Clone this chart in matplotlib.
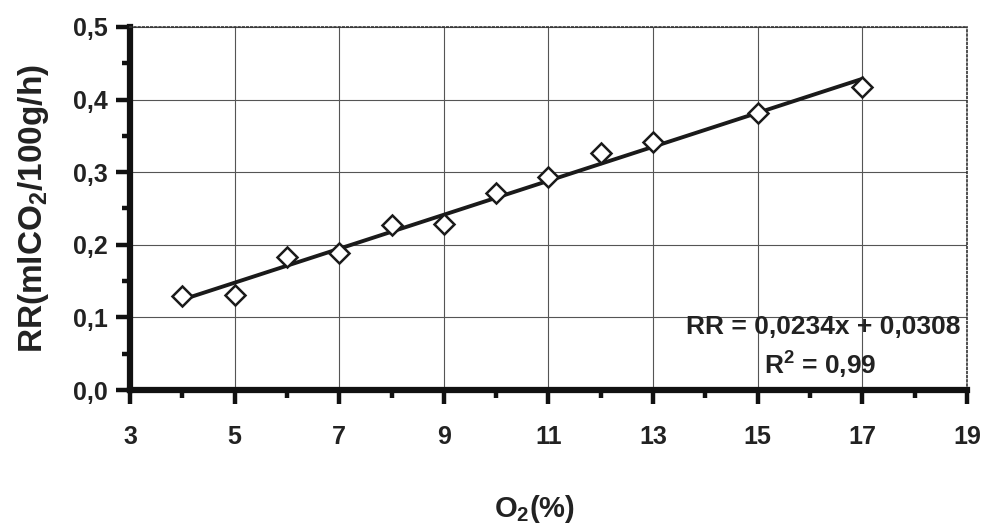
import numpy as np
import matplotlib
matplotlib.use('Agg')
import matplotlib.pyplot as plt
from matplotlib.ticker import FuncFormatter

# data
o2 = [4, 5, 6, 7, 8, 9, 10, 11, 12, 13, 15, 17]
rr = [0.129, 0.131, 0.183, 0.189, 0.227, 0.229, 0.271, 0.293, 0.326, 0.342, 0.382, 0.417]
slope = 0.0234
intercept = 0.0308
r2_text = '0,99'
x_major = [3, 5, 7, 9, 11, 13, 15, 17, 19]
x_minor = [4, 6, 8, 10, 12, 14, 16, 18]
y_major = [0.0, 0.1, 0.2, 0.3, 0.4, 0.5]
y_minor = [0.05, 0.15, 0.25, 0.35, 0.45]

plt.rcParams['font.family'] = ['Liberation Sans', 'DejaVu Sans']
plt.rcParams['font.weight'] = 'bold'
plt.rcParams['mathtext.fontset'] = 'custom'
plt.rcParams['mathtext.rm'] = 'Liberation Sans:bold'
plt.rcParams['mathtext.bf'] = 'Liberation Sans:bold'
plt.rcParams['mathtext.default'] = 'bf'

fig = plt.figure(figsize=(9.87, 5.24), dpi=100, facecolor='white')
ax = fig.add_axes([0.1317, 0.2557, 0.848, 0.6928])

# trend line over the measured range
xf = np.array([min(o2), max(o2)])
ax.plot(xf, slope * xf + intercept, color='#1a1a1a', lw=2.8, zorder=3)
ax.plot(o2, rr, linestyle='none', marker='D', ms=10, mfc='white',
        mec='#1a1a1a', mew=1.8, zorder=4)

ax.set_xlim(3, 19)
ax.set_ylim(0, 0.5)
ax.set_xticks(x_major)
ax.set_xticks(x_minor, minor=True)
ax.set_yticks(y_major)
ax.set_yticks(y_minor, minor=True)
ax.yaxis.set_major_formatter(FuncFormatter(lambda v, p: f'{v:.1f}'.replace('.', ',')))
ax.xaxis.set_major_formatter(FuncFormatter(lambda v, p: f'{v:.0f}'))

ax.grid(True, which='major', color='#555555', lw=0.8, zorder=0)

# spines: thick left/bottom, dotted top/right
for s in ['left', 'bottom']:
    ax.spines[s].set_linewidth(4.5)
    ax.spines[s].set_color('#111111')
    ax.spines[s].set_capstyle('projecting')
for s in ['top', 'right']:
    ax.spines[s].set_linestyle((0, (1, 1.5)))
    ax.spines[s].set_linewidth(1.2)
    ax.spines[s].set_color('#333333')

ax.tick_params(which='major', direction='out', length=10, width=3.2, color='#111111',
               labelsize=18, labelcolor='#222222')
ax.tick_params(which='minor', direction='out', length=6, width=3.2, color='#111111')
ax.tick_params(axis='x', which='major', pad=15)
ax.tick_params(axis='y', which='major', pad=6)

ax.set_xlabel('O$_2$(%)', fontsize=21, fontweight='bold', color='#222222')
ax.xaxis.set_label_coords(0.483, -0.284)
ax.set_ylabel('RR(mlCO$_2$/100g/h)', fontsize=24, fontweight='bold', color='#222222', labelpad=16)

ax.text(18.87, 0.087, 'RR = 0,0234x + 0,0308', ha='right', va='center',
        fontsize=19, fontweight='bold', color='#222222', zorder=5)
ax.text(16.19, 0.034, 'R$^2$ = ' + r2_text, ha='center', va='center',
        fontsize=19, fontweight='bold', color='#222222', zorder=5)

fig.savefig('out.png', dpi=100, facecolor='white')
